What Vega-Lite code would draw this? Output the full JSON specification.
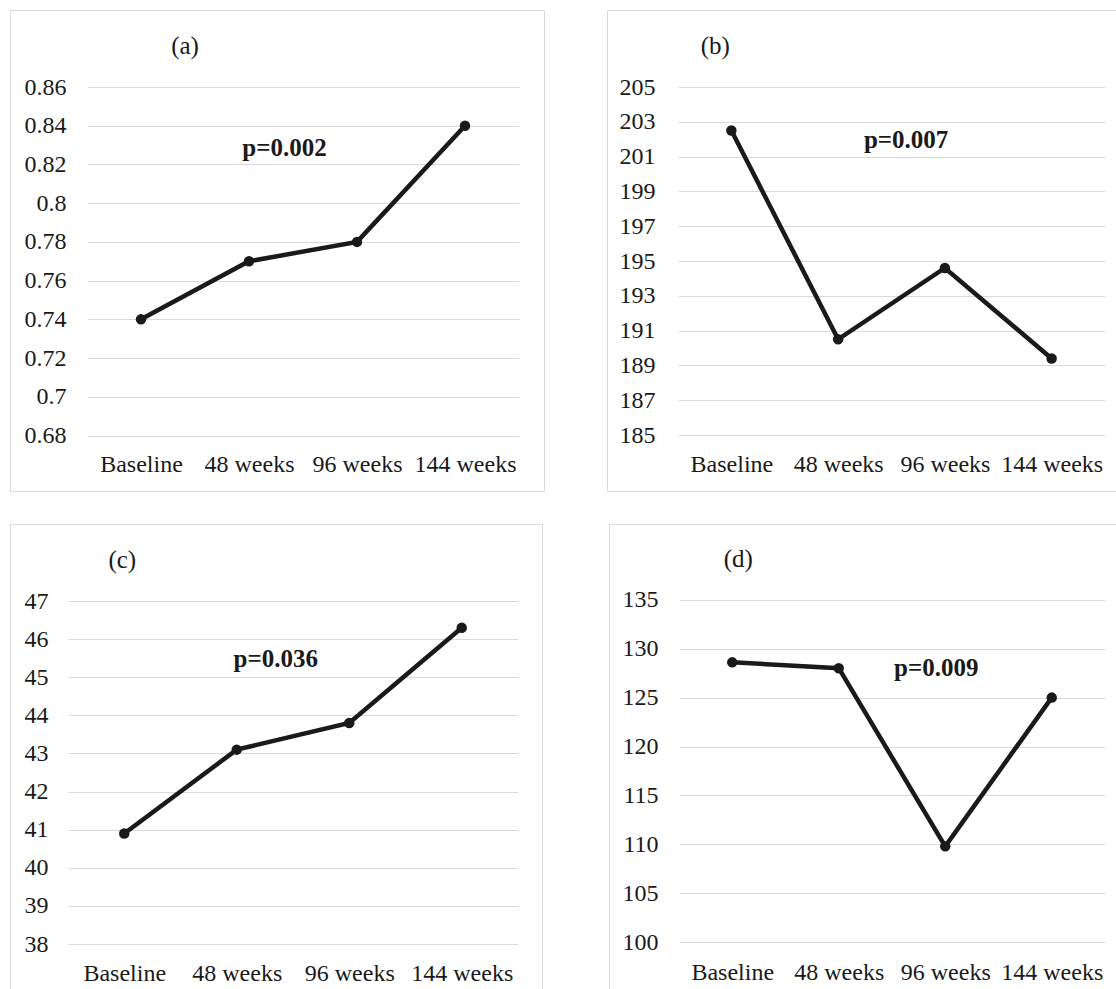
{
  "$schema": "https://vega.github.io/schema/vega-lite/v6.json",
  "padding": {"left": 9, "top": 9, "right": 0, "bottom": 0},
  "autosize": {"type": "pad"},
  "background": "white",
  "config": {
    "view": {"stroke": "#d9d9d9", "strokeWidth": 1},
    "font": "Liberation Serif",
    "axis": {
      "labelFont": "Liberation Serif",
      "labelFontSize": 24,
      "labelColor": "#1a1a1a",
      "labelPadding": 0,
      "ticks": false,
      "tickSize": 0,
      "domain": false,
      "labelOverlap": false,
      "gridColor": "#d9d9d9",
      "gridWidth": 1.2,
      "encode": {"labels": {"update": {"font": {"value": "Liberation Serif"}, "fontSize": {"value": 24}}}}
    },
    "axisX": {"grid": false, "labelBaseline": "alphabetic", "labelAngle": 0},
    "axisY": {"grid": true, "format": "~g"}
  },
  "datasets": {
    "a": [
      {"time": "Baseline", "value": 0.74},
      {"time": "48 weeks", "value": 0.77},
      {"time": "96 weeks", "value": 0.78},
      {"time": "144 weeks", "value": 0.84}
    ],
    "b": [
      {"time": "Baseline", "value": 202.5},
      {"time": "48 weeks", "value": 190.5},
      {"time": "96 weeks", "value": 194.6},
      {"time": "144 weeks", "value": 189.4}
    ],
    "c": [
      {"time": "Baseline", "value": 40.9},
      {"time": "48 weeks", "value": 43.1},
      {"time": "96 weeks", "value": 43.8},
      {"time": "144 weeks", "value": 46.3}
    ],
    "d": [
      {"time": "Baseline", "value": 128.6},
      {"time": "48 weeks", "value": 128.0},
      {"time": "96 weeks", "value": 109.8},
      {"time": "144 weeks", "value": 125.0}
    ]
  },
  "spacing": 31,
  "vconcat": [
    {
      "spacing": 61,
      "hconcat": [
        {
          "width": 534, "height": 481,
          "layer": [
            {
              "data": {"name": "a"},
              "mark": {"type": "line", "color": "#1a1a1a", "strokeWidth": 4.5},
              "encoding": {
                "x": {"field": "time", "type": "ordinal", "scale": {"type": "point", "domain": ["Baseline", "48 weeks", "96 weeks", "144 weeks"], "range": [77, 509], "padding": 0.5}, "axis": {"offset": -20, "title": null, "encode": {"labels": {"update": {"font": {"value": "Liberation Serif"}}}}}},
                "y": {"field": "value", "type": "quantitative", "scale": {"domain": [0.68, 0.86], "range": [425.5, 77], "nice": false, "zero": false}, "axis": {"values": [0.68, 0.7, 0.72, 0.74, 0.76, 0.78, 0.8, 0.82, 0.84, 0.86], "offset": -56, "title": null, "encode": {"labels": {"update": {"font": {"value": "Liberation Serif"}}}}}}
              }
            },
            {
              "data": {"name": "a"},
              "mark": {"type": "point", "filled": true, "size": 110, "color": "#1a1a1a", "opacity": 1},
              "encoding": {
                "x": {"field": "time", "type": "ordinal"},
                "y": {"field": "value", "type": "quantitative"}
              }
            },
            {
              "data": {"values": [{"label": "(a)"}]},
              "mark": {"type": "text", "fontSize": 25, "font": "Liberation Serif", "color": "#1a1a1a", "baseline": "alphabetic", "align": "center", "dx": 44},
              "encoding": {
                "text": {"field": "label"},
                "x": {"datum": "Baseline", "type": "ordinal"},
                "y": {"datum": 0.877, "type": "quantitative"}
              }
            },
            {
              "data": {"values": [{"label": "p=0.002"}]},
              "mark": {"type": "text", "fontSize": 25, "font": "Liberation Serif", "fontWeight": "bold", "color": "#1a1a1a", "baseline": "alphabetic", "align": "center", "dx": 35.5},
              "encoding": {
                "text": {"field": "label"},
                "x": {"datum": "48 weeks", "type": "ordinal"},
                "y": {"datum": 0.8244, "type": "quantitative"}
              }
            }
          ]
        },
        {
          "width": 512, "height": 481,
          "layer": [
            {
              "data": {"name": "b"},
              "mark": {"type": "line", "color": "#1a1a1a", "strokeWidth": 4.5},
              "encoding": {
                "x": {"field": "time", "type": "ordinal", "scale": {"type": "point", "domain": ["Baseline", "48 weeks", "96 weeks", "144 weeks"], "range": [71, 498], "padding": 0.5}, "axis": {"offset": -20, "title": null, "encode": {"labels": {"update": {"font": {"value": "Liberation Serif"}}}}}},
                "y": {"field": "value", "type": "quantitative", "scale": {"domain": [185, 205], "range": [425, 77], "nice": false, "zero": false}, "axis": {"values": [185, 187, 189, 191, 193, 195, 197, 199, 201, 203, 205], "offset": -48, "title": null, "encode": {"labels": {"update": {"font": {"value": "Liberation Serif"}}}}}}
              }
            },
            {
              "data": {"name": "b"},
              "mark": {"type": "point", "filled": true, "size": 110, "color": "#1a1a1a", "opacity": 1},
              "encoding": {
                "x": {"field": "time", "type": "ordinal"},
                "y": {"field": "value", "type": "quantitative"}
              }
            },
            {
              "data": {"values": [{"label": "(b)"}]},
              "mark": {"type": "text", "fontSize": 25, "font": "Liberation Serif", "color": "#1a1a1a", "baseline": "alphabetic", "align": "center", "dx": -16},
              "encoding": {
                "text": {"field": "label"},
                "x": {"datum": "Baseline", "type": "ordinal"},
                "y": {"datum": 206.9, "type": "quantitative"}
              }
            },
            {
              "data": {"values": [{"label": "p=0.007"}]},
              "mark": {"type": "text", "fontSize": 25, "font": "Liberation Serif", "fontWeight": "bold", "color": "#1a1a1a", "baseline": "alphabetic", "align": "center", "dx": 68},
              "encoding": {
                "text": {"field": "label"},
                "x": {"datum": "48 weeks", "type": "ordinal"},
                "y": {"datum": 201.51, "type": "quantitative"}
              }
            }
          ]
        }
      ]
    },
    {
      "spacing": 65,
      "hconcat": [
        {
          "width": 532, "height": 468,
          "layer": [
            {
              "data": {"name": "c"},
              "mark": {"type": "line", "color": "#1a1a1a", "strokeWidth": 4.5},
              "encoding": {
                "x": {"field": "time", "type": "ordinal", "scale": {"type": "point", "domain": ["Baseline", "48 weeks", "96 weeks", "144 weeks"], "range": [58, 508], "padding": 0.5}, "axis": {"offset": -12, "title": null, "encode": {"labels": {"update": {"font": {"value": "Liberation Serif"}}}}}},
                "y": {"field": "value", "type": "quantitative", "scale": {"domain": [38, 47], "range": [420, 77], "nice": false, "zero": false}, "axis": {"values": [38, 39, 40, 41, 42, 43, 44, 45, 46, 47], "offset": -38, "title": null, "encode": {"labels": {"update": {"font": {"value": "Liberation Serif"}}}}}}
              }
            },
            {
              "data": {"name": "c"},
              "mark": {"type": "point", "filled": true, "size": 110, "color": "#1a1a1a", "opacity": 1},
              "encoding": {
                "x": {"field": "time", "type": "ordinal"},
                "y": {"field": "value", "type": "quantitative"}
              }
            },
            {
              "data": {"values": [{"label": "(c)"}]},
              "mark": {"type": "text", "fontSize": 25, "font": "Liberation Serif", "color": "#1a1a1a", "baseline": "alphabetic", "align": "center", "dx": -2},
              "encoding": {
                "text": {"field": "label"},
                "x": {"datum": "Baseline", "type": "ordinal"},
                "y": {"datum": 47.87, "type": "quantitative"}
              }
            },
            {
              "data": {"values": [{"label": "p=0.036"}]},
              "mark": {"type": "text", "fontSize": 25, "font": "Liberation Serif", "fontWeight": "bold", "color": "#1a1a1a", "baseline": "alphabetic", "align": "center", "dx": 39},
              "encoding": {
                "text": {"field": "label"},
                "x": {"datum": "48 weeks", "type": "ordinal"},
                "y": {"datum": 45.26, "type": "quantitative"}
              }
            }
          ]
        },
        {
          "width": 510, "height": 468,
          "layer": [
            {
              "data": {"name": "d"},
              "mark": {"type": "line", "color": "#1a1a1a", "strokeWidth": 4.5},
              "encoding": {
                "x": {"field": "time", "type": "ordinal", "scale": {"type": "point", "domain": ["Baseline", "48 weeks", "96 weeks", "144 weeks"], "range": [70, 496], "padding": 0.5}, "axis": {"offset": -13, "title": null, "encode": {"labels": {"update": {"font": {"value": "Liberation Serif"}}}}}},
                "y": {"field": "value", "type": "quantitative", "scale": {"domain": [100, 135], "range": [418.3, 75.7], "nice": false, "zero": false}, "axis": {"values": [100, 105, 110, 115, 120, 125, 130, 135], "offset": -49, "title": null, "encode": {"labels": {"update": {"font": {"value": "Liberation Serif"}}}}}}
              }
            },
            {
              "data": {"name": "d"},
              "mark": {"type": "point", "filled": true, "size": 110, "color": "#1a1a1a", "opacity": 1},
              "encoding": {
                "x": {"field": "time", "type": "ordinal"},
                "y": {"field": "value", "type": "quantitative"}
              }
            },
            {
              "data": {"values": [{"label": "(d)"}]},
              "mark": {"type": "text", "fontSize": 25, "font": "Liberation Serif", "color": "#1a1a1a", "baseline": "alphabetic", "align": "center", "dx": 6},
              "encoding": {
                "text": {"field": "label"},
                "x": {"datum": "Baseline", "type": "ordinal"},
                "y": {"datum": 138.34, "type": "quantitative"}
              }
            },
            {
              "data": {"values": [{"label": "p=0.009"}]},
              "mark": {"type": "text", "fontSize": 25, "font": "Liberation Serif", "fontWeight": "bold", "color": "#1a1a1a", "baseline": "alphabetic", "align": "center", "dx": -9},
              "encoding": {
                "text": {"field": "label"},
                "x": {"datum": "96 weeks", "type": "ordinal"},
                "y": {"datum": 127.17, "type": "quantitative"}
              }
            }
          ]
        }
      ]
    }
  ]
}
